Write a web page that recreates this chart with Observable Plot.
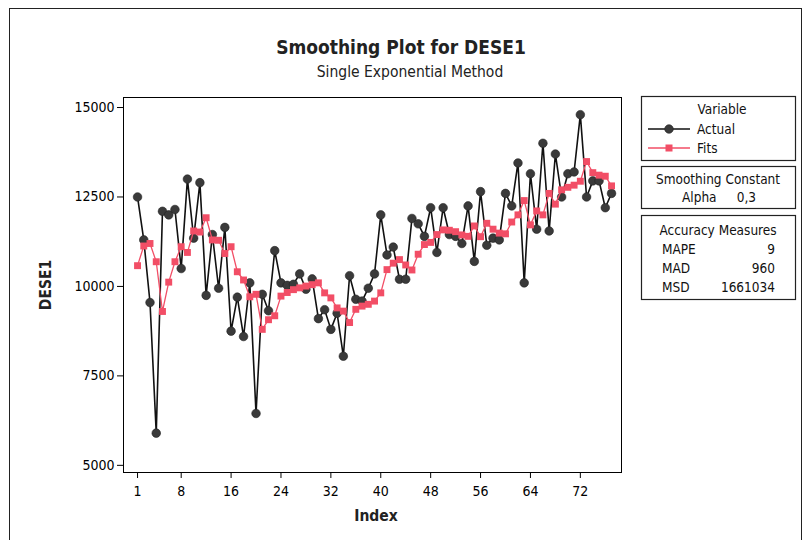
<!DOCTYPE html>
<html><head><meta charset="utf-8">
<script src="https://cdn.jsdelivr.net/npm/d3@7"></script>
<script src="https://cdn.jsdelivr.net/npm/@observablehq/plot@0.6"></script>
<style>
body{margin:0;background:#fff;}
#chart svg{display:block;}
</style>
</head><body><div id="chart"></div>
<script>
// Observation index 1..77
const obsIndex = d3.range(1, 78);
// Actual DESE1 values
const actual = [
  12500, 11300, 9550, 5900, 12100, 12000, 12150, 10500, 13000, 11350,
  12900, 9750, 11450, 9950, 11650, 8750, 9700, 8600, 10100, 6450,
  9780, 9320, 11000, 10100, 10030, 10060, 10350, 9920, 10210, 9100,
  9350, 8800, 9250, 8050, 10300, 9640, 9590, 9950, 10350, 12000,
  10880, 11100, 10200, 10200, 11900, 11750, 11400, 12200, 10950, 12200,
  11450, 11400, 11200, 12250, 10700, 12650, 11150, 11350, 11300, 12600,
  12250, 13450, 10100, 13150, 11600, 14000, 11550, 13700, 12500, 13150,
  13200, 14800, 12500, 12950, 12950, 12200, 12600
];
// Fitted values
const fits = [
  10580, 11130, 11200, 10690, 9300, 10120, 10690, 11110, 10950, 11550,
  11520, 11920, 11300, 11290, 10920, 11110, 10410, 10180, 9710, 9780,
  8800, 9070, 9180, 9730, 9830, 9910, 9960, 10010, 10050, 10100,
  9820, 9680, 9400, 9310, 8990, 9360, 9450, 9500, 9590, 9820,
  10470, 10650, 10750, 10600, 10460, 10900, 11170, 11230, 11450, 11580,
  11570, 11530, 11440, 11400, 11690, 11390, 11765, 11600, 11490, 11470,
  11800, 12000, 12400, 11720, 12110, 12000, 12600, 12300, 12700, 12770,
  12830, 12940, 13490, 13180, 13110, 13080, 12810
];
const xTicks = [1, 8, 16, 24, 32, 40, 48, 56, 64, 72];
const yTicks = [5000, 7500, 10000, 12500, 15000];
const seriesNames = ["Actual", "Fits"];
const alpha = "0,3";
const accuracyLabels = ["MAPE", "MAD", "MSD"];
const accuracyValues = ["9", "960", "1661034"];

const data = obsIndex.map((i, k) => ({i, actual: actual[k], fits: fits[k]}));

const FONT = "'DejaVu Sans Condensed', 'DejaVu Sans', sans-serif";
const actualColor = "#3a3a3a";
const fitsColor = "#f24e66";

const svgNode = Plot.plot({
  width: 806, height: 540,
  marginLeft: 123, marginRight: 185, marginTop: 97, marginBottom: 68,
  style: {fontFamily: FONT, fontSize: "13px", background: "transparent", color: "#000"},
  x: {domain: [-1.25, 78.6]},
  y: {domain: [4800, 15280]},
  marks: [
    Plot.line(data, {x: "i", y: "actual", stroke: "#111", strokeWidth: 1.6}),
    Plot.dot(data, {x: "i", y: "actual", fill: actualColor, stroke: "#222", strokeWidth: 0.6, r: 4.3}),
    Plot.line(data, {x: "i", y: "fits", stroke: fitsColor, strokeWidth: 1.3}),
    Plot.dot(data, {x: "i", y: "fits", symbol: "square", fill: fitsColor, r: 3.9}),
    Plot.frame({stroke: "#000", strokeWidth: 1}),
    Plot.axisX({ticks: xTicks, tickSize: 6, tickPadding: 8, fontSize: 14, label: null, tickFormat: d3.format("d")}),
    Plot.axisY({ticks: yTicks, tickSize: 6, tickPadding: 3, fontSize: 14, label: null, tickFormat: d3.format("d")})
  ]
});
document.getElementById("chart").appendChild(svgNode);

const svg = d3.select(svgNode);
// outer border
svg.append("rect").attr("x", 9.5).attr("y", 8.5).attr("width", 792).attr("height", 545)
  .attr("fill", "none").attr("stroke", "#222").attr("stroke-width", 1);

// titles
svg.append("text").attr("x", 401).attr("y", 54).attr("text-anchor", "middle")
  .attr("font-family", FONT).attr("font-weight", "bold").attr("font-size", 19).attr("fill", "#222")
  .text("Smoothing Plot for DESE1");
svg.append("text").attr("x", 410).attr("y", 77).attr("text-anchor", "middle")
  .attr("font-family", FONT).attr("font-size", 15.5).attr("fill", "#222")
  .text("Single Exponential Method");
// axis labels
svg.append("text").attr("x", 376).attr("y", 521).attr("text-anchor", "middle")
  .attr("font-family", FONT).attr("font-weight", "bold").attr("font-size", 15.5).attr("fill", "#222")
  .text("Index");
svg.append("text").attr("transform", "translate(51,285) rotate(-90)").attr("text-anchor", "middle")
  .attr("font-family", FONT).attr("font-weight", "bold").attr("font-size", 15.5).attr("fill", "#222")
  .text("DESE1");

// legend boxes
const lg = svg.append("g").attr("font-family", FONT).attr("font-size", 13.5).attr("fill", "#111").attr("text-anchor", "start");
const box = (y, h) => lg.append("rect").attr("x", 641.5).attr("y", y).attr("width", 154).attr("height", h)
  .attr("fill", "#fff").attr("stroke", "#222").attr("stroke-width", 1.2);
box(96.5, 64); box(166.5, 42); box(215.5, 84);

lg.append("text").attr("x", 722).attr("y", 114).attr("text-anchor", "middle").text("Variable");
// Actual key
lg.append("line").attr("x1", 648).attr("x2", 690).attr("y1", 129).attr("y2", 129).attr("stroke", "#111").attr("stroke-width", 1.6);
lg.append("circle").attr("cx", 669).attr("cy", 129).attr("r", 4.3).attr("fill", actualColor).attr("stroke", "#222").attr("stroke-width", 0.6);
lg.append("text").attr("x", 697).attr("y", 134).attr("text-anchor", "start").text(seriesNames[0]);
// Fits key
lg.append("line").attr("x1", 648).attr("x2", 690).attr("y1", 148).attr("y2", 148).attr("stroke", fitsColor).attr("stroke-width", 1.3);
lg.append("rect").attr("x", 665.5).attr("y", 144.5).attr("width", 7).attr("height", 7).attr("fill", fitsColor);
lg.append("text").attr("x", 697).attr("y", 153).attr("text-anchor", "start").text(seriesNames[1]);

lg.append("text").attr("x", 718).attr("y", 184).attr("text-anchor", "middle").text("Smoothing Constant");
lg.append("text").attr("x", 682).attr("y", 202).attr("text-anchor", "start").text("Alpha");
lg.append("text").attr("x", 756).attr("y", 202).attr("text-anchor", "end").text(alpha);

lg.append("text").attr("x", 718).attr("y", 235).attr("text-anchor", "middle").text("Accuracy Measures");
const rowY = [254, 273, 292];
accuracyLabels.forEach((lab, k) => {
  lg.append("text").attr("x", 662).attr("y", rowY[k]).attr("text-anchor", "start").text(lab);
  lg.append("text").attr("x", 775).attr("y", rowY[k]).attr("text-anchor", "end").text(accuracyValues[k]);
});
</script>
</body></html>
